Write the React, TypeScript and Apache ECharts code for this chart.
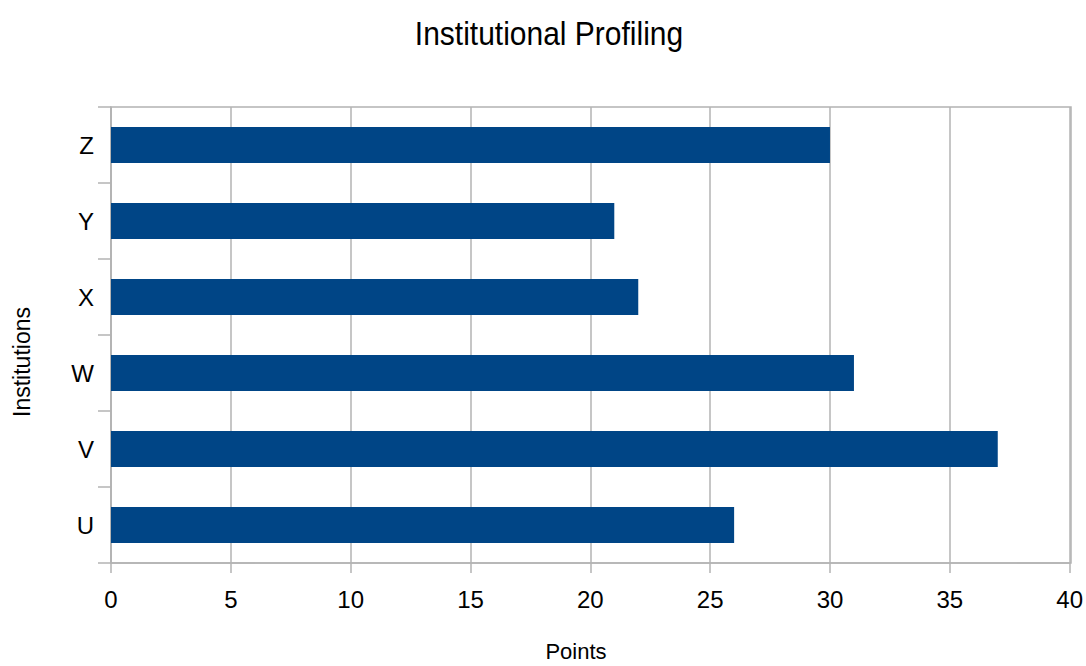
import React, { useEffect, useRef } from "react";
import * as echarts from "echarts";

const categories = ["U", "V", "W", "X", "Y", "Z"];
const points = [26, 37, 31, 22, 21, 30];
const xTicks = { min: 0, max: 40, interval: 5 };
const titleText = "Institutional Profiling";
const xAxisTitle = "Points";
const yAxisTitle = "Institutions";

export default function App() {
  const ref = useRef<HTMLDivElement>(null);
  useEffect(() => {
    if (!ref.current) return;
    const chart = echarts.init(ref.current, null, { renderer: "svg" });
    const font = "'Liberation Sans', Arial, sans-serif";
    chart.setOption({
      animation: false,
      backgroundColor: "#ffffff",
      textStyle: { fontFamily: font },
      grid: { left: 111, right: 15, top: 107, bottom: 103, containLabel: false },
      xAxis: {
        type: "value",
        min: xTicks.min,
        max: xTicks.max,
        interval: xTicks.interval,
        axisLine: { show: true, lineStyle: { color: "#b3b3b3", width: 1.5 } },
        axisTick: { show: true, length: 10, lineStyle: { color: "#b3b3b3", width: 1.5 } },
        splitLine: { show: true, lineStyle: { color: "#b3b3b3", width: 1.5 } },
        axisLabel: { fontFamily: font, fontSize: 24, color: "#000", margin: 24 },
      },
      yAxis: {
        type: "category",
        data: categories,
        axisLine: { show: true, lineStyle: { color: "#b3b3b3", width: 1.5 } },
        axisTick: { show: true, length: 13, lineStyle: { color: "#b3b3b3", width: 1.5 } },
        splitLine: { show: false },
        axisLabel: { fontFamily: font, fontSize: 24, color: "#000", margin: 17 },
      },
      graphic: [
        {
          type: "rect",
          shape: { x: 111, y: 107, width: 960, height: 456 },
          style: { fill: "none", stroke: "#b3b3b3", lineWidth: 1.5 },
          silent: true,
          z: 0,
        },
        {
          type: "text",
          x: 549,
          y: 33,
          scaleY: 1.12,
          style: { text: titleText, font: `30px ${font}`, fill: "#000", textAlign: "center", textVerticalAlign: "middle" },
        },
        {
          type: "text",
          x: 576,
          y: 651,
          style: { text: xAxisTitle, font: `22px ${font}`, fill: "#000", textAlign: "center", textVerticalAlign: "middle" },
        },
        {
          type: "text",
          x: 22,
          y: 362,
          rotation: Math.PI / 2,
          style: { text: yAxisTitle, font: `23px ${font}`, fill: "#000", textAlign: "center", textVerticalAlign: "middle" },
        },
      ],
      series: [
        {
          type: "bar",
          data: points,
          barWidth: 36,
          itemStyle: { color: "#004586" },
          z: 3,
        },
      ],
    });
    return () => chart.dispose();
  }, []);
  return <div ref={ref} style={{ position: "fixed", left: 0, top: 0, width: 1086, height: 666 }} />;
}
